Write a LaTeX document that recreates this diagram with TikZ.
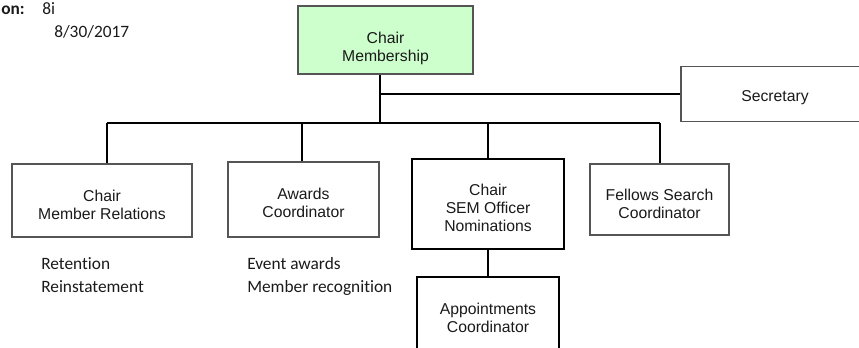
\documentclass[tikz,border=0pt]{standalone}
\usepackage{fontspec}
\setmainfont{Liberation Sans}
\newfontfamily\calib[Ligatures=NoCommon]{Carlito}
\definecolor{chairgreen}{HTML}{CCFFCC}
\definecolor{greenborder}{HTML}{555555}
\definecolor{boxgray}{HTML}{555555}
\definecolor{inkc}{HTML}{1A1A1A}
\begin{document}
\begin{tikzpicture}[x=0.75pt,y=-0.75pt,
 box/.style={draw=boxgray, line width=0.8pt, fill=white, inner sep=0pt},
 thickbox/.style={draw=black, line width=1.2pt, fill=white, inner sep=0pt},
 txt/.style={align=center, font=\fontsize{11.8}{13.6}\selectfont, text=inkc, inner sep=0pt},
 note/.style={font=\calib\fontsize{13}{16}\selectfont, anchor=base west, inner sep=0pt, text=inkc},
 conn/.style={line width=0.8pt, draw=black}]
\useasboundingbox (0,0) rectangle (859,347);

% boxes
\node[box, fill=chairgreen, draw=greenborder, minimum width=131.25pt, minimum height=51pt,
  label={[txt,yshift=-6pt]center:{Chair\\Membership}}] (chair) at (385.5,40) {};
\node[box, minimum width=141pt, minimum height=41.25pt,
  label={[txt,yshift=-3pt]center:{Secretary}}] (sec) at (775,94) {};
\node[box, minimum width=135pt, minimum height=54.75pt,
  label={[txt,yshift=-3pt]center:{Chair\\Member Relations}}] (mr) at (102,200.5) {};
\node[box, minimum width=113.25pt, minimum height=56.25pt,
  label={[txt,yshift=-2.5pt]center:{Awards\\Coordinator}}] (aw) at (303.5,199.5) {};
\node[thickbox, minimum width=114pt, minimum height=67.5pt,
  label={[txt,yshift=-3pt]center:{Chair\\SEM Officer\\Nominations}}] (sem) at (488,204) {};
\node[box, minimum width=104.25pt, minimum height=53.25pt,
  label={[txt,yshift=-3.3pt]center:{Fellows Search\\Coordinator}}] (fel) at (659.5,199.5) {};
\node[thickbox, minimum width=106.5pt, minimum height=61.5pt,
  label={[txt]center:{Appointments\\Coordinator}}] (app) at (488,318) {};

% junctions
\coordinate (j0) at (380,123);
\coordinate (d1) at (107,123);
\coordinate (d2) at (302,123);
\coordinate (d3) at (488,123);
\coordinate (d4) at (660,123);

% connectors
\draw[conn] (chair.south -| j0) -- (j0);
\draw[conn] (j0 |- sec.west) -- (sec.west);
\draw[conn] (d1) -- (d4);
\draw[conn] (d1) -- (d1 |- mr.north);
\draw[conn] (d2) -- (d2 |- aw.north);
\draw[conn] (d3) -- (sem.north);
\draw[conn] (d4) -- (d4 |- fel.north);
\draw[conn] (sem.south) -- (app.north);

% free texts
\node[note, anchor=base west, font=\calib\bfseries\fontsize{13}{16}\selectfont] (rev) at (1,14) {on:};
\node[note] (revno) at (42,14) {8i};
\node[note] (date) at (54,37) {8/30/2017};
\node[note] (r1) at (41,269) {Retention};
\node[note] (r2) at (41,292) {Reinstatement};
\node[note] (e1) at (247,269) {Event awards};
\node[note] (e2) at (247,292) {Member recognition};
\end{tikzpicture}
\end{document}
